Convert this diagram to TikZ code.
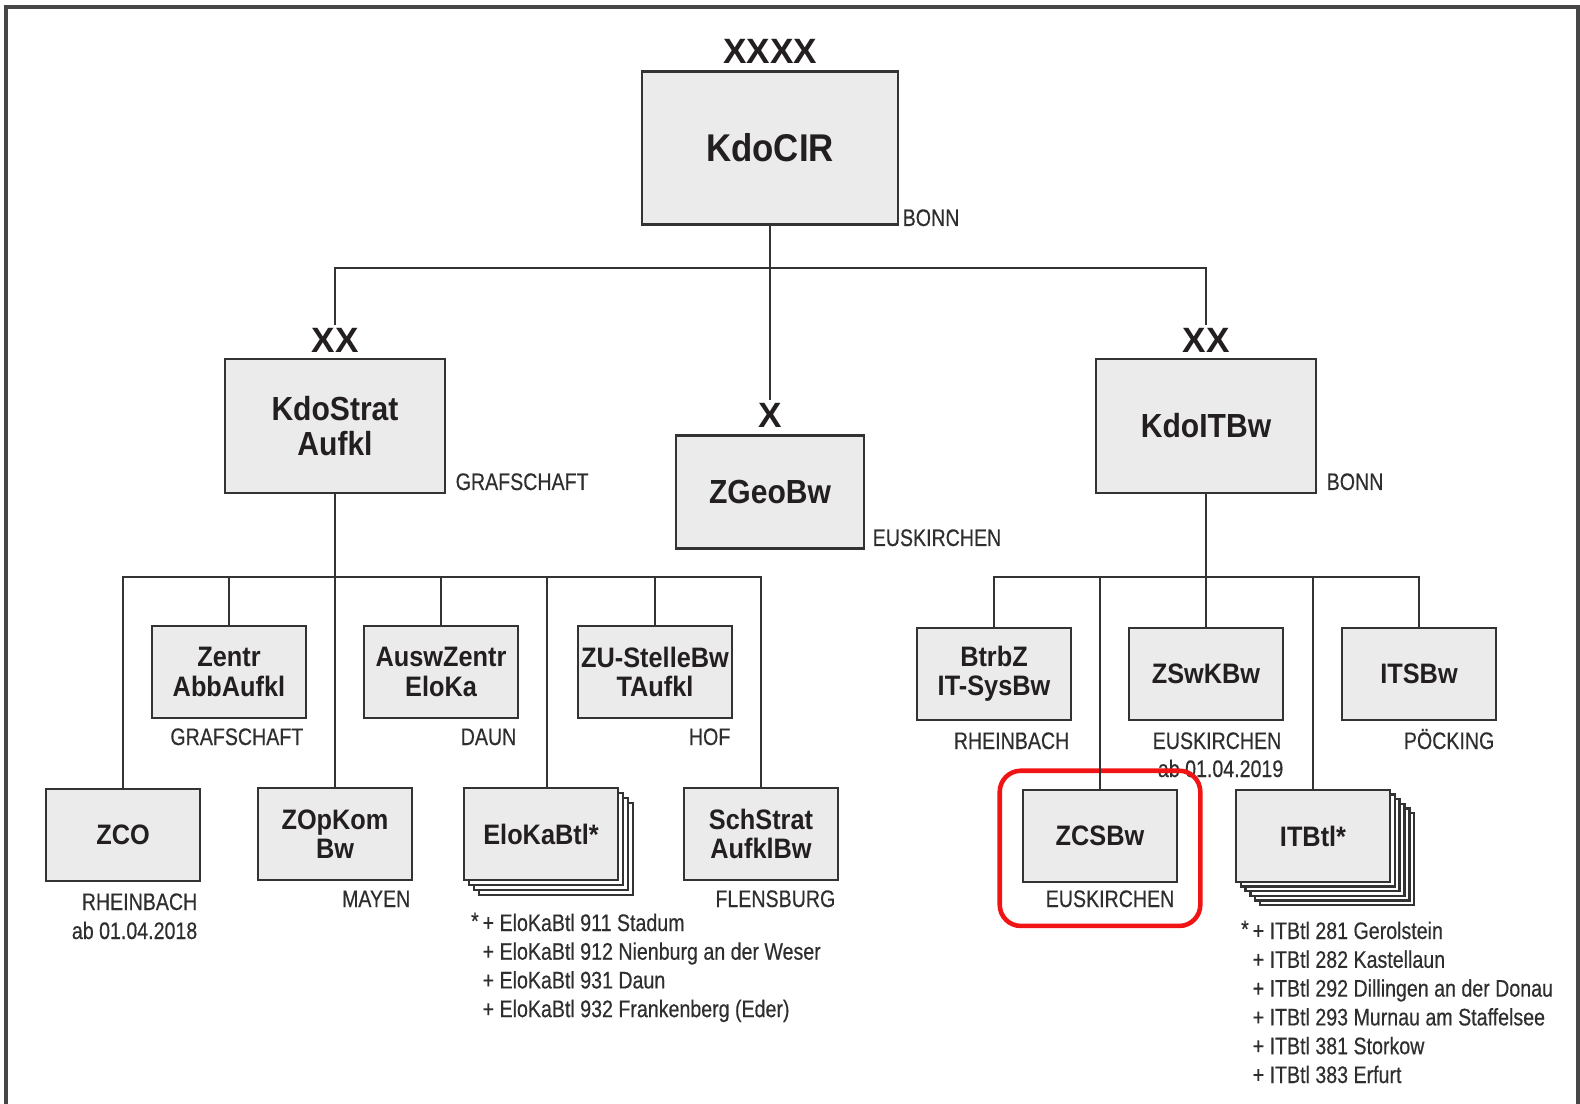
\documentclass[tikz,border=0pt]{standalone}
\usepackage{fontspec}
\setmainfont{Liberation Sans}
\newfontfamily\unitfont{Liberation Sans}[FakeStretch=0.9]
\newfontfamily\placefont{Liberation Sans}[FakeStretch=0.82,FakeBold=0.4]
\usepackage{tikz}
\usetikzlibrary{fit}
\definecolor{boxfill}{HTML}{EBEBEB}
\definecolor{boxline}{HTML}{333333}
\definecolor{ink}{HTML}{231F20}
\definecolor{placeink}{HTML}{2E2E2E}
\definecolor{markred}{HTML}{F01414}
\tikzset{
  % node options
  unit/.style={rectangle,draw=boxline,fill=boxfill,line width=0.7pt,text=ink,align=center,inner sep=0pt},
  unitS/.style={unit,minimum width=1.54cm,minimum height=0.92cm,font=\unitfont\bfseries\fontsize{8}{8.3}\selectfont},
  unitM/.style={unit,minimum width=2.2cm,minimum height=1.34cm,font=\unitfont\bfseries\fontsize{9.5}{9.8}\selectfont},
  unitL/.style={unit,minimum width=2.56cm,minimum height=1.53cm,font=\unitfont\bfseries\fontsize{11}{12}\selectfont},
  stackS/.style={unitS,fill=white},
  echelon/.style={inner sep=1pt,text=ink,font=\bfseries\fontsize{10}{12}\selectfont},
  place/.style={inner sep=0pt,text=placeink,font=\placefont\fontsize{6.8}{8.1}\selectfont},
  note/.style={place,anchor=base west},
  highlight/.style={draw=markred,line width=1.3pt,rounded corners=6pt,inner xsep=0.22cm,inner ysep=0.18cm},
  % path options
  link/.style={draw=boxline,line width=0.6pt},
  frame/.style={draw=gray!55!black,line width=1pt},
}

\begin{document}
\begin{tikzpicture}[x=0.01cm,y=-0.01cm]
  \useasboundingbox (0,0) rectangle (1580,1104);
  \draw[frame] (6,1104) -- (6,7) -- (1578,7) -- (1578,1104);

  % command
  \node[unitL] (cir) at (770,148) {KdoCIR};
  \node[echelon,anchor=base] (cirLvl) at (770,64) {XXXX};
  \node[place,anchor=base west] (cirCity) at (902,226) {BONN};

  % second level
  \node[unitM] (strat) at (335,426) {KdoStrat\\Aufkl};
  \node[echelon,anchor=base] (stratLvl) at (335,353) {XX};
  \node[place,anchor=base west] (stratCity) at (455,490) {GRAFSCHAFT};

  \node[unitM,minimum width=1.88cm,minimum height=1.13cm] (geo) at (770,492) {ZGeoBw};
  \node[echelon,anchor=base] (geoLvl) at (770,428) {X};
  \node[place,anchor=base west] (geoCity) at (872,546) {EUSKIRCHEN};

  \node[unitM] (itbw) at (1206,426) {KdoITBw};
  \node[echelon,anchor=base] (itbwLvl) at (1206,353) {XX};
  \node[place,anchor=base west] (itbwCity) at (1326,490) {BONN};

  % KdoStratAufkl units
  \node[unitS] (zentr) at (229,672) {Zentr\\AbbAufkl};
  \node[place,anchor=base east] (zentrCity) at (304,745) {GRAFSCHAFT};
  \node[unitS] (ausw) at (441,672) {AuswZentr\\EloKa};
  \node[place,anchor=base east] (auswCity) at (517,745) {DAUN};
  \node[unitS] (zu) at (655,672) {ZU-StelleBw\\TAufkl};
  \node[place,anchor=base east] (zuCity) at (731,745) {HOF};

  \node[unitS] (zco) at (123,835) {ZCO};
  \node[place,anchor=base east] (zcoCity) at (198,910) {RHEINBACH};
  \node[place,anchor=base east] (zcoDate) at (198,939) {ab 01.04.2018};
  \node[unitS] (opkom) at (335,834) {ZOpKom\\Bw};
  \node[place,anchor=base east] (opkomCity) at (411,907) {MAYEN};
  \foreach \k in {3,2,1}
    \node[stackS] at ({541+5*\k},{834+5*\k}) {};
  \node[unitS] (eloka) at (541,834) {EloKaBtl*};
  \node[unitS] (schstrat) at (761,834) {SchStrat\\AufklBw};
  \node[place,anchor=base east] (schstratCity) at (836,907) {FLENSBURG};

  \foreach \entry [count=\i from 0] in {{\llap{\raisebox{0.5pt}{*}\,}+ EloKaBtl 911 Stadum},
      + EloKaBtl 912 Nienburg an der Weser, + EloKaBtl 931 Daun,
      + EloKaBtl 932 Frankenberg (Eder)}
    \node[note] (elokaNote\i) at (482,{931+28.7*\i}) {\entry};

  % KdoITBw units
  \node[unitS] (btrbz) at (994,674) {BtrbZ\\IT-SysBw};
  \node[place,anchor=base east] (btrbzCity) at (1070,749) {RHEINBACH};
  \node[unitS] (zswk) at (1206,674) {ZSwKBw};
  \node[place,anchor=base east] (zswkCity) at (1282,749) {EUSKIRCHEN};
  \node[place,anchor=base east] (zswkDate) at (1284,777) {ab 01.04.2019};
  \node[unitS] (itsbw) at (1419,674) {ITSBw};
  \node[place,anchor=base east] (itsbwCity) at (1495,749) {PÖCKING};

  \node[unitS] (zcs) at (1100,836) {ZCSBw};
  \node[place,anchor=base east] (zcsCity) at (1175,907) {EUSKIRCHEN};
  \foreach \k in {5,4,3,2,1}
    \node[stackS] at ({1313+4.8*\k},{836+4.6*\k}) {};
  \node[unitS] (itbtl) at (1313,836) {ITBtl*};

  \foreach \entry [count=\i from 0] in {{\llap{\raisebox{0.5pt}{*}\,}+ ITBtl 281 Gerolstein},
      + ITBtl 282 Kastellaun, + ITBtl 292 Dillingen an der Donau,
      + ITBtl 293 Murnau am Staffelsee, + ITBtl 381 Storkow, + ITBtl 383 Erfurt}
    \node[note] (itbtlNote\i) at (1252,{939+28.8*\i}) {\entry};

  \node[highlight,fit=(zcs)(zcsCity)] (focus) {};

  % lines
  \coordinate (topBar) at (770,268);
  \coordinate (leftBar) at (335,577);
  \coordinate (rightBar) at (1206,577);
  \draw[link] (cir) -- (geoLvl);
  \draw[link] (stratLvl.north) |- (topBar) -| (itbwLvl.north);
  \draw[link] (strat) -- (opkom);
  \draw[link] (zco.north) |- (leftBar) -| (schstrat.north);
  \draw[link] (zentr.north) -- (zentr.north |- leftBar);
  \draw[link] (ausw.north) -- (ausw.north |- leftBar);
  \draw[link] (zu.north) -- (zu.north |- leftBar);
  \draw[link] ([xshift=0.06cm]eloka.north) -- ([xshift=0.06cm]eloka.north |- leftBar);
  \draw[link] (itbw) -- (zswk);
  \draw[link] (btrbz.north) |- (rightBar) -| (itsbw.north);
  \draw[link] (zcs.north) -- (zcs.north |- rightBar);
  \draw[link] (itbtl.north) -- (itbtl.north |- rightBar);
\end{tikzpicture}
\end{document}
